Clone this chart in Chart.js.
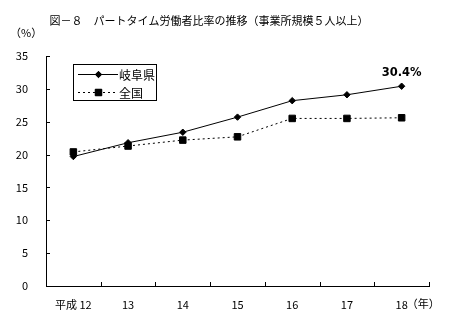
<!DOCTYPE html>
<html><head><meta charset="utf-8">
<script src="https://cdn.jsdelivr.net/npm/chart.js@4.4.1/dist/chart.umd.min.js"></script>
<style>html,body{margin:0;padding:0;background:#fff}canvas{display:block}</style>
</head><body>
<canvas id="c" width="460" height="322"></canvas>
<script>
// パートタイム労働者比率の推移（事業所規模５人以上）
const chartTitle = '図－８　パートタイム労働者比率の推移（事業所規模５人以上）';
const years = ['平成 12', '13', '14', '15', '16', '17', '18'];
const gifu = [19.7, 21.8, 23.4, 25.7, 28.2, 29.1, 30.4];     // 岐阜県 (%)
const zenkoku = [20.4, 21.3, 22.2, 22.7, 25.5, 25.5, 25.6];  // 全国 (%)
const yMin = 0, yMax = 35, yStep = 5;

const JP = "'Noto Sans CJK JP', 'DejaVu Sans', sans-serif";

const extras = {
  id: 'extras',
  afterDraw(chart) {
    const ctx = chart.ctx;
    const xs = chart.scales.x, ys = chart.scales.y;
    const area = chart.chartArea;
    ctx.save();
    ctx.fillStyle = '#000';
    ctx.strokeStyle = '#000';
    ctx.lineWidth = 1;

    // title and unit labels
    ctx.font = '11px ' + JP;
    ctx.textAlign = 'center';
    ctx.textBaseline = 'middle';
    ctx.fillText(chartTitle, 209, 21);
    ctx.textAlign = 'left';
    ctx.fillText('（%）', 10, 33);
    const lastX = xs.getPixelForValue(years.length - 1);
    ctx.fillText('（年）', lastX + 5, 304);

    // inward tick marks
    ctx.beginPath();
    for (let v = yMin; v <= yMax; v += yStep) {
      const y = Math.round(ys.getPixelForValue(v)) + 0.5;
      ctx.moveTo(area.left, y);
      ctx.lineTo(area.left + 4, y);
    }
    for (let i = 0; i < years.length; i++) {
      const x = Math.round(xs.getPixelForValue(i + 0.5)) + 0.5;
      ctx.moveTo(x, area.bottom);
      ctx.lineTo(x, area.bottom - 4);
    }
    ctx.stroke();

    // legend box
    const bx = 73.5, by = 64.5, bw = 83, bh = 36;
    ctx.strokeRect(bx, by, bw, bh);
    const rows = [74, 92];
    chart.data.datasets.forEach((ds, i) => {
      const y = rows[i] + 0.5;
      ctx.setLineDash(ds.borderDash || []);
      ctx.beginPath();
      ctx.moveTo(78, y);
      ctx.lineTo(118, y);
      ctx.stroke();
      ctx.setLineDash([]);
      Chart.helpers.drawPoint(ctx, {
        pointStyle: ds.pointStyle, radius: ds.pointRadius, borderWidth: 1
      }, 98.5, y);
      ctx.fill();
      ctx.font = '12px ' + JP;
      ctx.textAlign = 'left';
      ctx.textBaseline = 'middle';
      ctx.fillText(ds.label, 119, rows[i] + 1);
    });

    // value label on the latest 岐阜県 point
    const meta = chart.getDatasetMeta(0);
    const last = meta.data[meta.data.length - 1];
    ctx.font = 'bold 11.5px "DejaVu Sans", sans-serif';
    ctx.textAlign = 'center';
    ctx.fillText(gifu[gifu.length - 1].toFixed(1) + '%', last.x, last.y - 13);
    ctx.restore();
  }
};

new Chart(document.getElementById('c'), {
  type: 'line',
  data: {
    labels: years,
    datasets: [
      {
        label: '岐阜県', data: gifu,
        borderColor: '#000', backgroundColor: '#000', borderWidth: 1,
        pointStyle: 'rectRot', pointRadius: 3.2, pointBorderWidth: 1,
        tension: 0
      },
      {
        label: '全国', data: zenkoku,
        borderColor: '#000', backgroundColor: '#000', borderWidth: 1,
        borderDash: [2, 3],
        pointStyle: 'rect', pointRadius: 4.6, pointBorderWidth: 1,
        tension: 0
      }
    ]
  },
  options: {
    responsive: false,
    animation: false,
    devicePixelRatio: 1,
    layout: { padding: { top: 56, right: 31, left: 0, bottom: 0 } },
    plugins: { legend: { display: false }, title: { display: false }, tooltip: { enabled: false } },
    scales: {
      x: {
        type: 'category',
        offset: true,
        grid: { display: false },
        border: { display: true, color: '#000', width: 1 },
        ticks: { color: '#000', font: { family: JP, size: 11 }, padding: 4, maxRotation: 0, autoSkip: false },
        afterFit(s) { s.height = 36; }
      },
      y: {
        min: yMin, max: yMax,
        grid: { display: false },
        border: { display: true, color: '#000', width: 1 },
        ticks: { stepSize: yStep, color: '#000', font: { family: JP, size: 11 }, padding: 10 },
        afterFit(s) { s.width = 46; }
      }
    }
  },
  plugins: [extras]
});
</script>
</body></html>
